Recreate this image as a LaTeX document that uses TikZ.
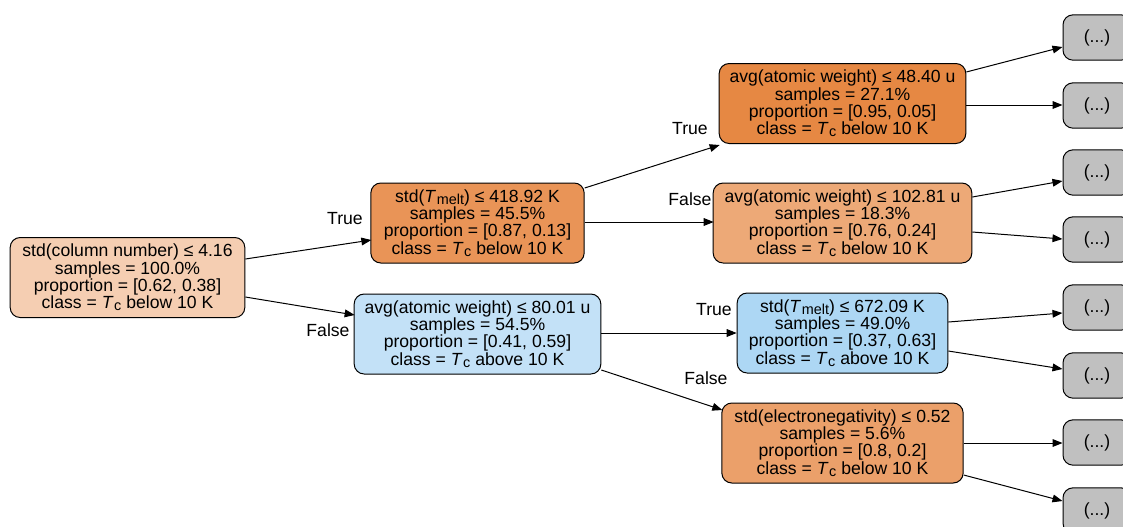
\documentclass[tikz,border=0pt]{standalone}
\usepackage{fontspec}
\setmainfont{Liberation Sans}
\usetikzlibrary{arrows.meta,calc}

% node fills: orange = T_c below 10 K, blue = T_c above 10 K
\definecolor{nroot}{RGB}{245,206,178}
\definecolor{nA}{RGB}{233,148,87}
\definecolor{nAA}{RGB}{230,136,67}
\definecolor{nAB}{RGB}{237,169,119}
\definecolor{nB}{RGB}{195,225,247}
\definecolor{nBA}{RGB}{173,215,244}
\definecolor{nBB}{RGB}{235,160,106}
\definecolor{leafgray}{RGB}{192,192,192}

\newcommand{\subtxt}[1]{\raisebox{-0.22ex}{\fontsize{10.8}{10.8}\selectfont #1}}
\newcommand{\tcsym}{\textit{T}\kern0.5pt\subtxt{c}}
\newcommand{\tmeltsym}{\textit{T}\kern0.5pt\subtxt{melt}}

\begin{document}
\begin{tikzpicture}[x=0.75pt,y=-0.75pt,
  splitbox/.style={draw, rounded corners=7.5pt, line width=0.75pt, align=center,
    font=\fontsize{13.2}{12.9}\selectfont, inner sep=0pt, minimum height=60pt},
  leafbox/.style={splitbox, fill=leafgray, minimum width=51pt, minimum height=34pt},
  edge/.style={line width=0.75pt, -{Triangle[length=7.5pt,width=5.8pt]}},
  lbl/.style={font=\fontsize{13.2}{12.9}\selectfont, inner sep=0pt}]
\useasboundingbox (0,0) rectangle (1123,526);

% decision nodes
\node[splitbox, fill=nroot, minimum width=176pt] (root) at (127.5,277.5)
  {std(column number) ≤ 4.16\\samples = 100.0\%\\proportion = [0.62, 0.38]\\class = \tcsym{} below 10 K};
\node[splitbox, fill=nA, minimum width=160pt] (A) at (477.5,223)
  {std(\tmeltsym) ≤ 418.92 K\\samples = 45.5\%\\proportion = [0.87, 0.13]\\class = \tcsym{} below 10 K};
\node[splitbox, fill=nB, minimum width=185pt] (B) at (477.5,334)
  {avg(atomic weight) ≤ 80.01 u\\samples = 54.5\%\\proportion = [0.41, 0.59]\\class = \tcsym{} above 10 K};
\node[splitbox, fill=nAA, minimum width=185pt] (AA) at (842.5,103.5)
  {avg(atomic weight) ≤ 48.40 u\\samples = 27.1\%\\proportion = [0.95, 0.05]\\class = \tcsym{} below 10 K};
\node[splitbox, fill=nAB, minimum width=194pt] (AB) at (842.5,223)
  {avg(atomic weight) ≤ 102.81 u\\samples = 18.3\%\\proportion = [0.76, 0.24]\\class = \tcsym{} below 10 K};
\node[splitbox, fill=nBA, minimum width=158pt] (BA) at (842.5,333)
  {std(\tmeltsym) ≤ 672.09 K\\samples = 49.0\%\\proportion = [0.37, 0.63]\\class = \tcsym{} above 10 K};
\node[splitbox, fill=nBB, minimum width=181pt] (BB) at (842.5,443)
  {std(electronegativity) ≤ 0.52\\samples = 5.6\%\\proportion = [0.8, 0.2]\\class = \tcsym{} below 10 K};

% truncated subtrees
\foreach \i/\y in {1/37.5,2/105.5,3/172.5,4/239.5,5/307.5,6/375.5,7/442.5,8/510.5}
  \node[leafbox] (g\i) at (1097,\y) {(...)};

% edges
\draw[edge] ($(root.east)+(0,-18.5)$) -- ($(A.west)+(1,17)$);
\draw[edge] ($(root.east)+(0,19.5)$) -- ($(B.west)+(1,-19)$);
\draw[edge] ($(A.east)+(0,-35)$) -- ($(AA.west)+(1,41.5)$);
\draw[edge] ($(A.east)+(0,-1)$) -- ($(AB.west)+(1,-1)$);
\draw[edge] ($(B.east)+(0,-1)$) -- ($(BA.west)+(0,0)$);
\draw[edge] ($(B.east)+(0,36)$) -- ($(BB.west)+(1,-33)$);
\draw[edge] ($(AA.east)+(0,-31.5)$) -- ($(g1.west)+(0,9.5)$);
\draw[edge] ($(AA.east)+(0,1.5)$) -- ($(g2.west)+(0,-0.5)$);
\draw[edge] ($(AB.east)+(0,-26)$) -- ($(g3.west)+(0,8.5)$);
\draw[edge] ($(AB.east)+(0,9)$) -- ($(g4.west)+(0,-0.5)$);
\draw[edge] ($(BA.east)+(0,-11)$) -- ($(g5.west)+(0,5.5)$);
\draw[edge] ($(BA.east)+(0,18)$) -- ($(g6.west)+(0,-6.5)$);
\draw[edge] ($(BB.east)+(0,0)$) -- ($(g7.west)+(0,0.5)$);
\draw[edge] ($(BB.east)+(0,32)$) -- ($(g8.west)+(0,-9.5)$);

% branch labels
\node[lbl] (t1) at (345,219) {True};
\node[lbl] (f1) at (328,330) {False};
\node[lbl] (t2) at (690,129) {True};
\node[lbl] (f2) at (690,199) {False};
\node[lbl] (t3) at (714,310) {True};
\node[lbl] (f3) at (706,378) {False};
\end{tikzpicture}
\end{document}
